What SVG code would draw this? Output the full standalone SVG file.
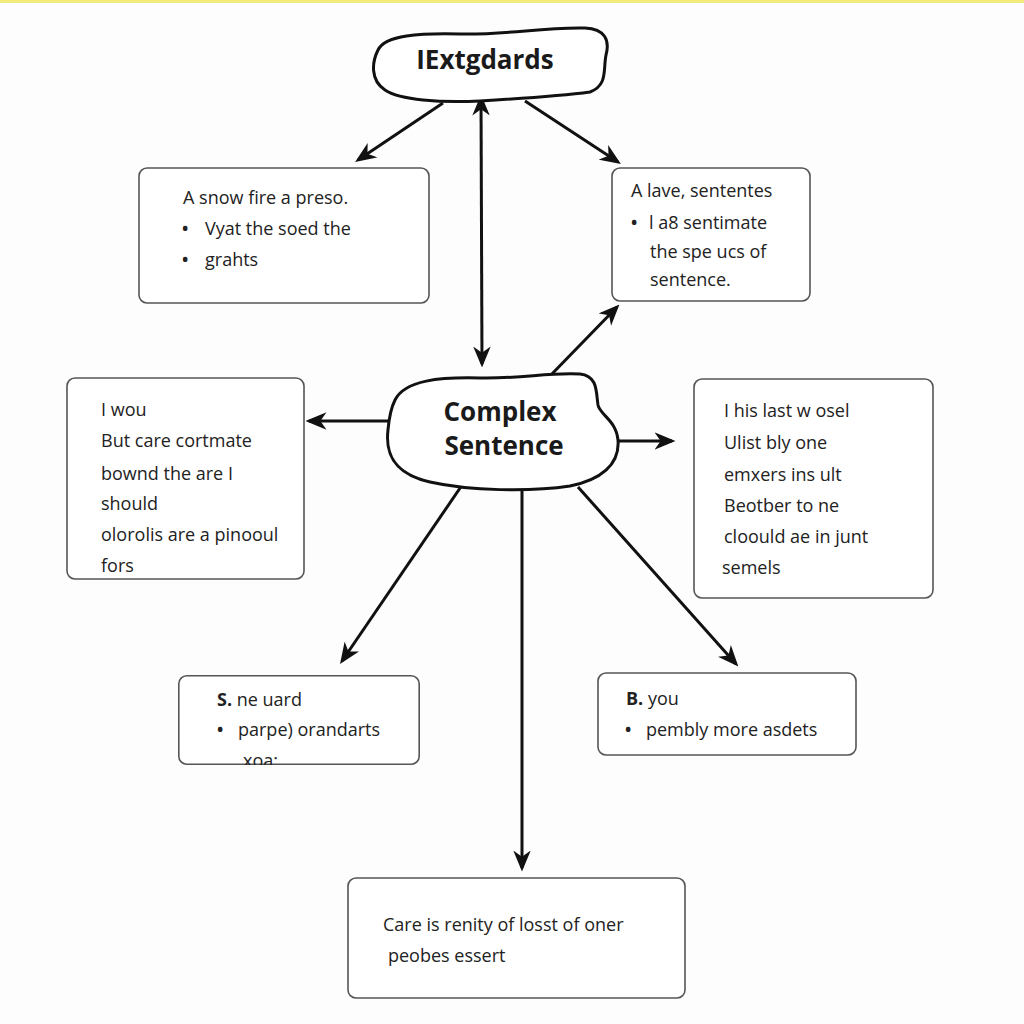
<svg xmlns="http://www.w3.org/2000/svg" width="1024" height="1024" viewBox="0 0 1024 1024">
<defs>
<style>
.box{fill:#fff;stroke:#555;stroke-width:1.6}
.blob{fill:#fff;stroke:#111;stroke-width:3}
.t{font-family:"Open Sans","Noto Sans",sans-serif;font-size:18px;fill:#222}
.u{font-family:"Open Sans","Noto Sans",sans-serif;font-size:22px;fill:#222}
.b{font-family:"Open Sans","Noto Sans",sans-serif;font-weight:bold;font-size:26px;fill:#1a1a1a;text-anchor:middle}
.bb{font-weight:bold}
.c{stroke:#111;stroke-width:3;fill:none;marker-end:url(#ah)}
</style>
<marker id="ah" viewBox="0 0 12 10" refX="10" refY="5" markerWidth="7" markerHeight="6" orient="auto-start-reverse" markerUnits="strokeWidth">
<path d="M0,0 L12,5 L0,10 L3.5,5 Z" fill="#111"/>
</marker>
</defs>
<rect width="1024" height="1024" fill="#fdfdfd"/>
<rect x="0" y="0" width="1024" height="3" fill="#f3ec7c"/>
<g id="connectors">
<line class="c" x1="443" y1="103" x2="358" y2="160"/>
<line class="c" x1="481" y1="98" x2="482" y2="364" marker-start="url(#ah)"/>
<line class="c" x1="525" y1="101" x2="618" y2="162"/>
<line class="c" x1="548" y1="378" x2="617" y2="307"/>
<line class="c" x1="392" y1="421" x2="309" y2="421"/>
<line class="c" x1="602" y1="441" x2="672" y2="441"/>
<line class="c" x1="471" y1="472" x2="342" y2="661"/>
<line class="c" x1="522" y1="472" x2="522" y2="868"/>
<line class="c" x1="578" y1="487" x2="736" y2="664"/>
</g>
<g id="top">
<path class="blob" d="M 378,50 C 385,35 420,33 460,34 C 510,35 540,27 585,28 C 605,29 610,40 606,55 C 603,70 608,85 590,92 C 560,96 530,98 480,101 C 440,103 400,100 385,90 C 370,80 372,62 378,50 Z"/>
<text class="b" x="485" y="69">IExtgdards</text>
</g>
<g id="center">
<path class="blob" d="M 395,400 C 405,380 440,377 480,378 C 520,379 550,372 580,374 C 598,376 596,392 598,405 C 600,415 616,420 618,440 C 620,465 600,480 570,486 C 530,492 470,491 430,482 C 395,474 385,455 388,430 C 389,418 391,408 395,400 Z"/>
<text class="b" x="500" y="421">Complex</text>
<text class="b" x="504" y="455">Sentence</text>
</g>
<g id="box1">
<rect class="box" x="139" y="168" width="290" height="135" rx="8"/>
<text class="t" x="183" y="204">A snow fire a preso.</text>
<text class="u" x="181" y="236">•</text>
<text class="t" x="205" y="235">Vyat the soed the</text>
<text class="u" x="181" y="267">•</text>
<text class="t" x="205" y="266">grahts</text>
</g>
<g id="box2">
<rect class="box" x="612" y="168" width="198" height="133" rx="8"/>
<text class="t" x="631" y="197">A lave, sententes</text>
<text class="u" x="630" y="230">•</text>
<text class="t" x="649" y="229">l a8 sentimate</text>
<text class="t" x="650" y="258">the spe ucs of</text>
<text class="t" x="650" y="286">sentence.</text>
</g>
<g id="box3">
<rect class="box" x="67" y="378" width="237" height="201" rx="8"/>
<text class="t" x="101" y="416">I wou</text>
<text class="t" x="101" y="447">But care cortmate</text>
<text class="t" x="101" y="480">bownd the are I</text>
<text class="t" x="101" y="510">should</text>
<text class="t" x="101" y="541">olorolis are a pinooul</text>
<text class="t" x="101" y="572">fors</text>
</g>
<g id="box4">
<rect class="box" x="694" y="379" width="239" height="219" rx="8"/>
<text class="t" x="724" y="417">I his last w osel</text>
<text class="t" x="724" y="449">Ulist bly one</text>
<text class="t" x="724" y="481">emxers ins ult</text>
<text class="t" x="724" y="512">Beotber to ne</text>
<text class="t" x="724" y="543">cloould ae in junt</text>
<text class="t" x="722" y="574">semels</text>
</g>
<g id="box5">
<svg x="178" y="675" width="242" height="90" overflow="hidden">
<rect class="box" x="0.8" y="0.8" width="240.4" height="88.4" rx="8"/>
<text class="t" x="39" y="31"><tspan class="bb">S.</tspan> ne uard</text>
<text class="u" x="38" y="62">•</text>
<text class="t" x="60" y="61">parpe) orandarts</text>
<text class="t" x="65" y="92">xoa:</text>
</svg>
</g>
<g id="box6">
<rect class="box" x="598" y="673" width="258" height="82" rx="8"/>
<text class="t" x="626" y="705"><tspan class="bb">B.</tspan> you</text>
<text class="u" x="624" y="737">•</text>
<text class="t" x="646" y="736">pembly more asdets</text>
</g>
<g id="box7">
<rect class="box" x="348" y="878" width="337" height="120" rx="8"/>
<text class="t" x="383" y="931">Care is renity of losst of oner</text>
<text class="t" x="388" y="962">peobes essert</text>
</g>
</svg>
